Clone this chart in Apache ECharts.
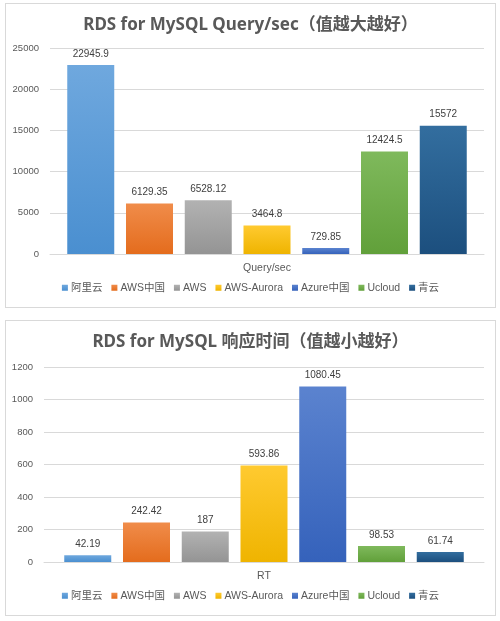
<!DOCTYPE html>
<html>
<head>
<meta charset="utf-8">
<script src="https://cdn.jsdelivr.net/npm/echarts@6/dist/echarts.min.js"></script>
<style>
  html, body { margin: 0; padding: 0; background: #fff; }
  .card {
    position: absolute;
    left: 5px;
    width: 489px;
    border: 1px solid #d9d9d9;
    background: #fff;
  }
  #qps { top: 3px; height: 303px; }
  #rt { top: 320px; height: 294px; }
</style>
</head>
<body>
<div id="qps" class="card"></div>
<div id="rt" class="card"></div>
<script>
const providers = ['阿里云', 'AWS中国', 'AWS', 'AWS-Aurora', 'Azure中国', 'Ucloud', '青云']
const qpsCategory = ['Query/sec']
const qpsValues = [22945.9, 6129.35, 6528.12, 3464.8, 729.85, 12424.5, 15572]
const rtCategory = ['RT']
const rtValues = [42.19, 242.42, 187, 593.86, 1080.45, 98.53, 61.74]
const topColors = ['#6fa8de', '#f08c4a', '#b2b2b2', '#ffca30', '#5b83cf', '#7fb95c', '#336e9f']
const bottomColors = ['#4a8fd0', '#e46c1d', '#949494', '#efb400', '#3562bb', '#61a03a', '#1c4f7e']

const font = "'Noto Sans', 'Noto Sans CJK SC', sans-serif"
const smallFont = "'Liberation Sans', 'Noto Sans CJK SC', sans-serif"

const buildOption = (title, category, values, max, interval, grid) => ({
  textStyle: { fontFamily: smallFont },
  title: {
    text: title,
    left: 'center',
    top: 8,
    textStyle: { fontSize: 17, fontWeight: 'bold', color: '#595959', fontFamily: font }
  },
  legend: {
    bottom: 9,
    left: 'center',
    icon: 'rect',
    itemWidth: 6,
    itemHeight: 6,
    itemGap: 9,
    textStyle: { fontSize: 10.5, color: '#595959', fontFamily: smallFont, padding: [0, 0, 0, -2] },
    data: providers
  },
  grid: grid,
  xAxis: {
    type: 'category',
    data: category,
    axisLine: { lineStyle: { color: '#d9d9d9' } },
    axisTick: { show: false },
    axisLabel: { color: '#595959', fontSize: 10.5, margin: 9 }
  },
  yAxis: {
    type: 'value',
    min: 0,
    max: max,
    interval: interval,
    axisLine: { show: false },
    axisTick: { show: false },
    axisLabel: { color: '#595959', fontSize: 9.5, margin: 11, formatter: v => String(v) },
    splitLine: { lineStyle: { color: '#d9d9d9' } }
  },
  series: providers.map((name, i) => ({
    name: name,
    type: 'bar',
    data: [values[i]],
    barWidth: 47,
    barGap: '25%',
    itemStyle: {
      color: new echarts.graphic.LinearGradient(0, 0, 0, 1, [
        { offset: 0, color: topColors[i] },
        { offset: 1, color: bottomColors[i] }
      ])
    },
    label: {
      show: true,
      position: 'top',
      distance: 6,
      fontSize: 10,
      color: '#404040'
    }
  }))
})

const qpsChart = echarts.init(document.getElementById('qps'))
qpsChart.setOption(buildOption('RDS for MySQL Query/sec（值越大越好）', qpsCategory, qpsValues, 25000, 5000,
  { left: 44, right: 11, top: 44, bottom: 53 }))

const rtChart = echarts.init(document.getElementById('rt'))
rtChart.setOption(buildOption('RDS for MySQL 响应时间（值越小越好）', rtCategory, rtValues, 1200, 200,
  { left: 38, right: 11, top: 46, bottom: 53 }))
</script>
</body>
</html>
